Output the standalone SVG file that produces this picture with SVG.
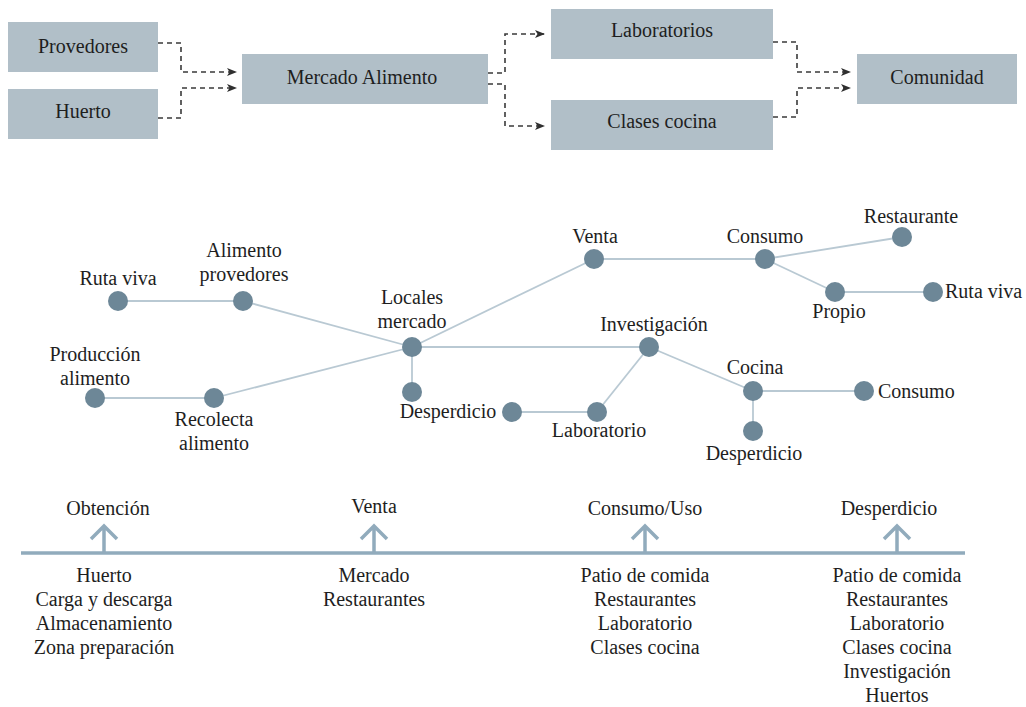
<svg xmlns="http://www.w3.org/2000/svg" width="1026" height="707" viewBox="0 0 1026 707">
<defs>
<style>
text{font-family:"Liberation Serif","Times New Roman",serif;font-size:20px;fill:#1e1e1e}
.m{text-anchor:middle}
.box{fill:#b1bfc8}
.dash{fill:none;stroke:#3a3a3a;stroke-width:1.6;stroke-dasharray:5 4}
.edge{stroke:#b9c9d3;stroke-width:1.8;fill:none}
.nd{fill:#6d8797}
.tl{stroke:#91abbc;stroke-width:3.5;fill:none}
</style>
<marker id="ah" viewBox="0 0 10 8" refX="9" refY="4" markerWidth="10" markerHeight="8" markerUnits="userSpaceOnUse" orient="auto">
<path d="M0,0 L10,4 L0,8 L2.5,4 Z" fill="#2f2f2f"/>
</marker>
</defs>
<rect width="1026" height="707" fill="#ffffff"/>

<g id="top-connectors">
<path class="dash" d="M158,43 H181 V72 H236" marker-end="url(#ah)"/>
<path class="dash" d="M158,118 H181 V88 H236" marker-end="url(#ah)"/>
<path class="dash" d="M488,73 H505 V34 H544" marker-end="url(#ah)"/>
<path class="dash" d="M488,84 H505 V126 H544" marker-end="url(#ah)"/>
<path class="dash" d="M773,42 H797 V72 H850" marker-end="url(#ah)"/>
<path class="dash" d="M773,117 H797 V88 H850" marker-end="url(#ah)"/>
</g>
<g id="box-provedores"><rect class="box" x="8" y="22" width="150" height="50"/><text class="m" x="83" y="53">Provedores</text></g>
<g id="box-huerto"><rect class="box" x="8" y="89" width="150" height="50"/><text class="m" x="83" y="118">Huerto</text></g>
<g id="box-mercado"><rect class="box" x="242" y="54" width="246" height="50"/><text class="m" x="362" y="84">Mercado Alimento</text></g>
<g id="box-laboratorios"><rect class="box" x="551" y="9" width="222" height="50"/><text class="m" x="662" y="37">Laboratorios</text></g>
<g id="box-clases"><rect class="box" x="551" y="100" width="222" height="50"/><text class="m" x="662" y="128">Clases cocina</text></g>
<g id="box-comunidad"><rect class="box" x="857" y="54" width="160" height="50"/><text class="m" x="937" y="84">Comunidad</text></g>

<g id="network-edges">
<line class="edge" x1="118" y1="301" x2="243" y2="301"/>
<line class="edge" x1="243" y1="301" x2="412" y2="347"/>
<line class="edge" x1="95" y1="398" x2="214" y2="398"/>
<line class="edge" x1="214" y1="398" x2="412" y2="347"/>
<line class="edge" x1="412" y1="347" x2="412" y2="392"/>
<line class="edge" x1="412" y1="347" x2="594" y2="259"/>
<line class="edge" x1="412" y1="347" x2="649" y2="347"/>
<line class="edge" x1="594" y1="259" x2="765" y2="259"/>
<line class="edge" x1="765" y1="259" x2="902" y2="237"/>
<line class="edge" x1="765" y1="259" x2="835" y2="292"/>
<line class="edge" x1="835" y1="292" x2="933" y2="292"/>
<line class="edge" x1="649" y1="347" x2="597" y2="412"/>
<line class="edge" x1="597" y1="412" x2="512" y2="412"/>
<line class="edge" x1="649" y1="347" x2="753" y2="391"/>
<line class="edge" x1="753" y1="391" x2="864" y2="391"/>
<line class="edge" x1="753" y1="391" x2="753" y2="431"/>
</g>

<g id="n-rutaviva1"><circle class="nd" cx="118" cy="301" r="10"/><text class="m" x="118" y="285">Ruta viva</text></g>
<g id="n-alimento-provedores"><circle class="nd" cx="243" cy="301" r="10"/><text class="m" x="244" y="257">Alimento</text><text class="m" x="244" y="281">provedores</text></g>
<g id="n-locales"><circle class="nd" cx="412" cy="347" r="10"/><text class="m" x="412" y="304">Locales</text><text class="m" x="412" y="328">mercado</text></g>
<g id="n-desperdicio1"><circle class="nd" cx="412" cy="392" r="10"/></g>
<g id="n-produccion"><circle class="nd" cx="95" cy="398" r="10"/><text class="m" x="95" y="361">Producción</text><text class="m" x="95" y="385">alimento</text></g>
<g id="n-recolecta"><circle class="nd" cx="214" cy="398" r="10"/><text class="m" x="214" y="426">Recolecta</text><text class="m" x="214" y="450">alimento</text></g>
<g id="n-desperdicio2"><circle class="nd" cx="512" cy="412" r="10"/><text class="m" x="448" y="418">Desperdicio</text></g>
<g id="n-venta"><circle class="nd" cx="594" cy="259" r="10"/><text class="m" x="595" y="243">Venta</text></g>
<g id="n-consumo1"><circle class="nd" cx="765" cy="259" r="10"/><text class="m" x="765" y="243">Consumo</text></g>
<g id="n-restaurante"><circle class="nd" cx="902" cy="237" r="10"/><text class="m" x="911" y="223">Restaurante</text></g>
<g id="n-propio"><circle class="nd" cx="835" cy="292" r="10"/><text class="m" x="839" y="318">Propio</text></g>
<g id="n-rutaviva2"><circle class="nd" cx="933" cy="292" r="10"/><text x="945" y="298">Ruta viva</text></g>
<g id="n-investigacion"><circle class="nd" cx="649" cy="347" r="10"/><text class="m" x="654" y="331">Investigación</text></g>
<g id="n-laboratorio"><circle class="nd" cx="597" cy="412" r="10"/><text class="m" x="599" y="437">Laboratorio</text></g>
<g id="n-cocina"><circle class="nd" cx="753" cy="391" r="10"/><text class="m" x="755" y="374">Cocina</text></g>
<g id="n-consumo2"><circle class="nd" cx="864" cy="391" r="10"/><text x="878" y="398">Consumo</text></g>
<g id="n-desperdicio3"><circle class="nd" cx="753" cy="431" r="10"/><text class="m" x="754" y="460">Desperdicio</text></g>

<g id="timeline">
<line class="tl" x1="21" y1="553" x2="965" y2="553"/>
<path class="tl" d="M104,553 V526 M91,539 L104,526 L117,539"/>
<path class="tl" d="M374,553 V526 M361,539 L374,526 L387,539"/>
<path class="tl" d="M645,553 V526 M632,539 L645,526 L658,539"/>
<path class="tl" d="M897,553 V526 M884,539 L897,526 L910,539"/>
</g>
<g id="stage-obtencion">
<text class="m" x="108" y="515">Obtención</text>
<text class="m" x="104" y="582">Huerto</text>
<text class="m" x="104" y="606">Carga y descarga</text>
<text class="m" x="104" y="630">Almacenamiento</text>
<text class="m" x="104" y="654">Zona preparación</text>
</g>
<g id="stage-venta">
<text class="m" x="374" y="513">Venta</text>
<text class="m" x="374" y="582">Mercado</text>
<text class="m" x="374" y="606">Restaurantes</text>
</g>
<g id="stage-consumo">
<text class="m" x="645" y="515">Consumo/Uso</text>
<text class="m" x="645" y="582">Patio de comida</text>
<text class="m" x="645" y="606">Restaurantes</text>
<text class="m" x="645" y="630">Laboratorio</text>
<text class="m" x="645" y="654">Clases cocina</text>
</g>
<g id="stage-desperdicio">
<text class="m" x="889" y="515">Desperdicio</text>
<text class="m" x="897" y="582">Patio de comida</text>
<text class="m" x="897" y="606">Restaurantes</text>
<text class="m" x="897" y="630">Laboratorio</text>
<text class="m" x="897" y="654">Clases cocina</text>
<text class="m" x="897" y="678">Investigación</text>
<text class="m" x="897" y="702">Huertos</text>
</g>
</svg>
